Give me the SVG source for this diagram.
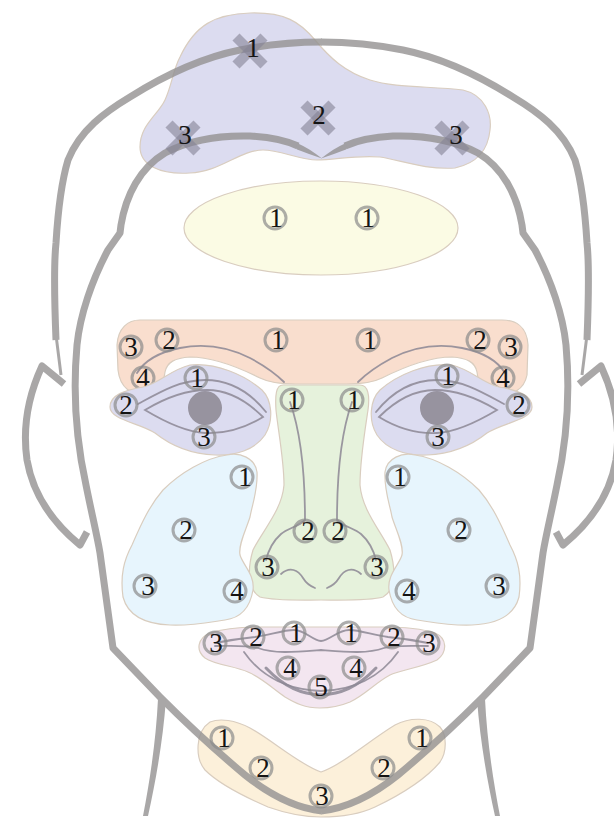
<svg xmlns="http://www.w3.org/2000/svg" xmlns:xlink="http://www.w3.org/1999/xlink" width="614" height="819" viewBox="0 0 614 819">
  <style>
    .zone { stroke: #d9cdbf; stroke-width: 1.2; }
    .fh { fill: #dcdcf0; }
    .yl { fill: #fbfbe4; }
    .pc { fill: #f9dece; }
    .lv { fill: #dcdcf0; }
    .gr { fill: #e6f2dc; }
    .bl { fill: #e7f5fd; }
    .pk { fill: #f3e6f0; }
    .ch { fill: #fcf0da; }
    .feat { fill: none; stroke: #8c8794; stroke-width: 1.8; stroke-linecap: round; opacity: 0.85; }
    .mark { fill: none; stroke: #8a8a8a; stroke-width: 3; opacity: 0.7; }
    .num { font-family: "Liberation Serif", "Times New Roman", serif; font-size: 27px; fill: #141414; text-anchor: middle; }
    .cross { stroke: #858396; stroke-width: 10; opacity: 0.6; }
    .line { fill: none; stroke: #949292; stroke-width: 7; stroke-linejoin: round; stroke-linecap: butt; }
  </style>
  <defs>
    <g id="cross">
      <line class="cross" x1="-14" y1="-14" x2="14" y2="14"/>
      <line class="cross" x1="-14" y1="14" x2="14" y2="-14"/>
    </g>
    <circle id="ring" class="mark" r="11"/>
    <!-- left half of the head outline; the right half is its mirror -->
    <g id="half">
      <path class="line" d="M56,340 C54,290 54,262 56,243 C58,210 62,180 68,160 C80,130 105,112 130,97 C165,75 200,58 240,50 C275,43 300,42 322,42"/>
      <path class="line" style="stroke-width:3" d="M56,335 L61,375"/>
      <path class="line" d="M298,146 C285,140 270,137 250,136 C215,135 185,142 165,153 C140,168 126,195 121,225 L120,233 L108,250 C92,280 80,315 77,345 C73,390 76,440 86,485 C92,515 97,535 100,553 L113,648 L160,697 C185,722 215,750 245,775 C270,795 295,808 322,811"/>
      <path fill="#949292" d="M296,142.5 C306,147 314,152 322,158.5 C312,155 304,152 297,149.5 Z"/>
      <path class="line" stroke-linejoin="miter" d="M64,384 L42,366 C30,392 22,425 27,460 C33,495 52,522 80,545 L87,532"/>
      <path fill="#949292" d="M158,699 L166,699 C163,740 156,780 148,816 L143,816 C150,780 156,740 158,699 Z"/>
    </g>
  </defs>

  <!-- forehead -->
  <g id="forehead-upper">
    <path class="zone fh" d="M180,57 C195,25 215,14 250,13 C285,12 300,22 315,40 C330,58 345,72 370,80 C395,88 430,86 463,90 C485,95 492,115 490,130 C488,150 478,163 455,168 C425,170 400,160 380,157 C355,155 335,160 317,160 C300,160 280,150 263,150 C240,150 220,172 190,173 C160,175 140,165 140,147 C140,125 158,115 165,100 C172,85 173,70 180,57 Z"/>
  </g>
  <g id="forehead-lower">
    <ellipse class="zone yl" cx="321" cy="228" rx="137" ry="47"/>
    <use xlink:href="#ring" x="275" y="218"/><text class="num" x="276" y="227">1</text>
    <use xlink:href="#ring" x="367" y="218"/><text class="num" x="368" y="227">1</text>
  </g>

  <!-- brows -->
  <g id="brows">
    <path class="zone pc" d="M140,320 C128,320 118,328 117,345 L118,370 C120,388 132,396 146,394 C158,392 164,382 165,372 C167,362 175,358 190,357 C215,357 240,368 260,378 C270,383 280,384 295,384 L347,384 C362,384 372,383 382,378 C402,368 427,357 452,357 C467,358 475,362 477,372 C478,382 484,392 497,394 C512,396 524,390 527,375 L528,345 C527,326 515,320 502,320 Z"/>
    <path class="feat" d="M137,373 C145,360 160,352 180,348 C205,343 230,348 250,358 C265,366 277,375 284,382"/>
    <path class="feat" d="M505,373 C497,360 482,352 462,348 C437,343 412,348 392,358 C377,366 365,375 358,382"/>
    <use xlink:href="#ring" x="131" y="347"/><text class="num" x="131" y="356">3</text>
    <use xlink:href="#ring" x="167" y="340"/><text class="num" x="169" y="349">2</text>
    <use xlink:href="#ring" x="276" y="340"/><text class="num" x="278" y="349">1</text>
    <use xlink:href="#ring" x="143" y="378"/><text class="num" x="143" y="387">4</text>
    <use xlink:href="#ring" x="368" y="340"/><text class="num" x="370" y="349">1</text>
    <use xlink:href="#ring" x="478" y="340"/><text class="num" x="480" y="349">2</text>
    <use xlink:href="#ring" x="510" y="347"/><text class="num" x="511" y="356">3</text>
    <use xlink:href="#ring" x="503" y="378"/><text class="num" x="503" y="387">4</text>
  </g>

  <!-- eyes -->
  <g id="eye-left">
    <path class="zone lv" d="M110,407 C110,395 125,390 143,387 C160,383 170,370 190,365 C215,362 245,375 262,390 C272,400 274,420 265,435 C255,450 235,456 215,455 C190,454 170,445 155,433 C140,423 110,420 110,407 Z"/>
    <path class="feat" d="M138,404 C160,392 180,380 205,380 C230,380 250,392 266,412"/>
    <path class="feat" d="M145,410 C165,398 185,390 207,390 C230,390 248,402 263,417 C245,428 225,434 205,433 C185,432 165,422 145,410 Z"/>
    <circle cx="205" cy="408" r="17" fill="#97939f"/>
    <use xlink:href="#ring" x="196" y="378"/><text class="num" x="197" y="387">1</text>
    <use xlink:href="#ring" x="126" y="405"/><text class="num" x="126" y="414">2</text>
    <use xlink:href="#ring" x="204" y="437"/><text class="num" x="204" y="446">3</text>
  </g>
  <g id="eye-right">
    <g transform="matrix(-1 0 0 1 642 0)">
      <path class="zone lv" d="M110,407 C110,395 125,390 143,387 C160,383 170,370 190,365 C215,362 245,375 262,390 C272,400 274,420 265,435 C255,450 235,456 215,455 C190,454 170,445 155,433 C140,423 110,420 110,407 Z"/>
      <path class="feat" d="M138,404 C160,392 180,380 205,380 C230,380 250,392 266,412"/>
      <path class="feat" d="M145,410 C165,398 185,390 207,390 C230,390 248,402 263,417 C245,428 225,434 205,433 C185,432 165,422 145,410 Z"/>
      <circle cx="205" cy="408" r="17" fill="#97939f"/>
    </g>
    <use xlink:href="#ring" x="447" y="376"/><text class="num" x="448" y="385">1</text>
    <use xlink:href="#ring" x="518" y="405"/><text class="num" x="519" y="414">2</text>
    <use xlink:href="#ring" x="438" y="437"/><text class="num" x="438" y="446">3</text>
  </g>

  <!-- nose -->
  <g id="nose">
    <path class="zone gr" d="M283,385 L360,385 C368,385 370,395 368,410 C365,430 360,460 360,485 C362,510 380,530 390,550 C396,570 396,590 383,597 C370,601 340,600 321,600 C300,600 275,601 260,597 C248,590 247,570 253,550 C263,530 282,510 284,485 C284,460 278,430 276,410 C275,395 276,385 283,385 Z"/>
    <path class="feat" d="M290,402 C300,430 305,470 305,520 C298,527 288,528 281,534 C272,542 268,552 266,560"/>
    <path class="feat" d="M281,574 C290,566 298,570 303,578 C306,583 310,586 315,588"/>
    <path class="feat" d="M352,402 C342,430 337,470 337,520 C344,527 354,528 361,534 C370,542 374,552 376,560"/>
    <path class="feat" d="M361,574 C352,566 344,570 339,578 C336,583 332,586 327,588"/>
    <use xlink:href="#ring" x="292" y="400"/><text class="num" x="294" y="409">1</text>
    <use xlink:href="#ring" x="352" y="400"/><text class="num" x="354" y="409">1</text>
    <use xlink:href="#ring" x="305" y="531"/><text class="num" x="308" y="540">2</text>
    <use xlink:href="#ring" x="335" y="531"/><text class="num" x="338" y="540">2</text>
    <use xlink:href="#ring" x="267" y="567"/><text class="num" x="268" y="576">3</text>
    <use xlink:href="#ring" x="376" y="567"/><text class="num" x="377" y="576">3</text>
  </g>

  <!-- cheeks -->
  <g id="cheek-left">
    <path class="zone bl" d="M227,455 C240,452 255,458 257,472 C258,490 252,505 250,517 C246,530 238,545 240,555 C243,565 255,575 253,590 C250,608 240,618 225,620 C205,623 190,626 170,625 C145,624 128,616 123,597 C120,575 124,560 132,545 C142,522 150,505 163,490 C180,473 205,458 227,455 Z"/>
    <use xlink:href="#ring" x="242" y="477"/><text class="num" x="245" y="486">1</text>
    <use xlink:href="#ring" x="184" y="530"/><text class="num" x="186" y="539">2</text>
    <use xlink:href="#ring" x="145" y="586"/><text class="num" x="148" y="595">3</text>
    <use xlink:href="#ring" x="235" y="591"/><text class="num" x="237" y="600">4</text>
  </g>
  <g id="cheek-right">
    <path class="zone bl" transform="matrix(-1 0 0 1 642 0)" d="M227,455 C240,452 255,458 257,472 C258,490 252,505 250,517 C246,530 238,545 240,555 C243,565 255,575 253,590 C250,608 240,618 225,620 C205,623 190,626 170,625 C145,624 128,616 123,597 C120,575 124,560 132,545 C142,522 150,505 163,490 C180,473 205,458 227,455 Z"/>
    <use xlink:href="#ring" x="398" y="477"/><text class="num" x="400" y="486">1</text>
    <use xlink:href="#ring" x="459" y="530"/><text class="num" x="461" y="539">2</text>
    <use xlink:href="#ring" x="497" y="586"/><text class="num" x="499" y="595">3</text>
    <use xlink:href="#ring" x="407" y="591"/><text class="num" x="409" y="600">4</text>
  </g>

  <!-- lips -->
  <g id="lips">
    <path class="zone pk" d="M210,633 C225,628 245,627 260,627 L382,627 C400,627 420,628 435,633 C447,638 448,652 437,660 C420,668 400,670 390,675 C375,683 365,695 350,702 C338,707 328,708 320,708 C305,708 295,703 285,697 C272,688 262,678 248,672 C235,666 215,665 205,658 C195,650 198,638 210,633 Z"/>
    <path class="feat" d="M215,643 C230,640 245,638 255,637 C270,635 283,630 294,630 C305,630 312,640 321,641 C330,640 338,630 349,630 C360,630 373,635 388,637 C398,638 413,640 428,643"/>
    <path class="feat" d="M215,646 C232,646 248,645 258,648 C275,654 295,652 321,650 C347,652 367,654 384,648 C394,645 410,646 428,646"/>
    <path class="feat" d="M244,652 C262,678 290,690 321,691 C352,690 380,678 398,652"/>
    <path class="feat" style="stroke-width:3" d="M266,668 C285,688 302,694 321,695 C340,694 357,688 376,668"/>
    <use xlink:href="#ring" x="215" y="643"/><text class="num" x="216" y="652">3</text>
    <use xlink:href="#ring" x="253" y="637"/><text class="num" x="256" y="646">2</text>
    <use xlink:href="#ring" x="294" y="633"/><text class="num" x="296" y="642">1</text>
    <use xlink:href="#ring" x="349" y="633"/><text class="num" x="351" y="642">1</text>
    <use xlink:href="#ring" x="392" y="637"/><text class="num" x="394" y="646">2</text>
    <use xlink:href="#ring" x="428" y="643"/><text class="num" x="429" y="652">3</text>
    <use xlink:href="#ring" x="288" y="668"/><text class="num" x="290" y="677">4</text>
    <use xlink:href="#ring" x="354" y="668"/><text class="num" x="356" y="677">4</text>
    <use xlink:href="#ring" x="320" y="687"/><text class="num" x="321" y="696">5</text>
  </g>

  <!-- chin -->
  <g id="chin">
    <path class="zone ch" d="M210,722 C220,718 235,720 250,728 C272,740 300,765 321,772 C342,765 370,740 395,725 C410,717 430,717 440,727 C447,735 447,752 440,762 C425,780 400,795 375,807 C358,815 340,817 321,817 C300,817 285,813 268,807 C245,797 220,785 205,770 C195,758 195,732 210,722 Z"/>
  </g>

  <!-- head outline, drawn over the zones -->
  <g id="outline" opacity="0.8">
    <use xlink:href="#half"/>
    <use xlink:href="#half" transform="matrix(-1 0 0 1 643 0)"/>
  </g>

  <!-- forehead markers -->
  <g id="forehead-marks">
    <use xlink:href="#cross" x="250" y="51"/><text class="num" x="253" y="57">1</text>
    <use xlink:href="#cross" x="318" y="118"/><text class="num" x="319" y="124">2</text>
    <use xlink:href="#cross" x="183" y="138"/><text class="num" x="185" y="144">3</text>
    <use xlink:href="#cross" x="452" y="138"/><text class="num" x="456" y="144">3</text>
  </g>

  <!-- chin markers -->
  <g id="chin-marks">
    <use xlink:href="#ring" x="222" y="738"/><text class="num" x="224" y="747">1</text>
    <use xlink:href="#ring" x="261" y="768"/><text class="num" x="263" y="777">2</text>
    <use xlink:href="#ring" x="321" y="796"/><text class="num" x="322" y="805">3</text>
    <use xlink:href="#ring" x="383" y="768"/><text class="num" x="384" y="777">2</text>
    <use xlink:href="#ring" x="420" y="738"/><text class="num" x="422" y="747">1</text>
  </g>
</svg>
